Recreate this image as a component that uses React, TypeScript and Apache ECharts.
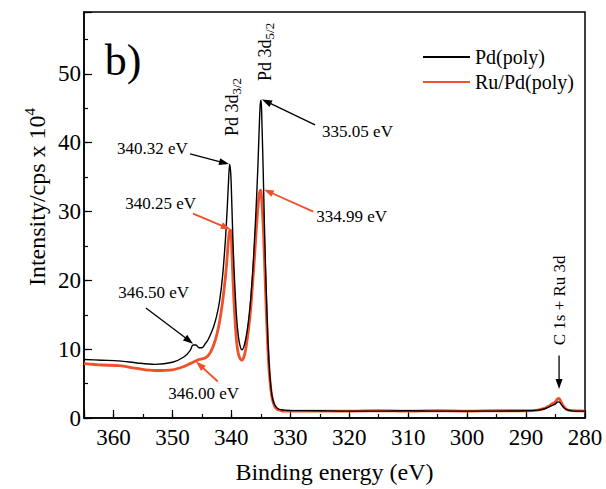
import React, { useEffect, useRef } from 'react';
import * as echarts from 'echarts';

// Binding energy (eV)
const energies = [
  365, 362, 359, 356, 353, 350, 348, 347, 346.5, 346,
  345.5, 345, 344.5, 344, 343.5, 343, 342.5, 342, 341.5, 341,
  340.7, 340.5, 340.3, 340.1, 339.9, 339.7, 339.4, 339.1, 338.8, 338.5,
  338.2, 337.9, 337.6, 337.3, 337.0, 336.7, 336.4, 336.1, 335.8, 335.5,
  335.3, 335.1, 334.95, 334.8, 334.6, 334.4, 334.2, 334.0, 333.8, 333.6,
  333.4, 333.2, 333.0, 332.7, 332.4, 332.0, 331.5, 331, 330, 325,
  320, 315, 310, 305, 300, 295, 290, 288, 287, 286.5,
  286, 285.5, 285, 284.7, 284.4, 284.1, 283.7, 283.2, 282.5, 281.5,
  280,
];

// Pd(poly) intensity (cps x 10^4)
const pdPoly = [
  8.5, 8.4, 8.3, 8.0, 7.8, 8.1, 8.9, 9.8, 10.6, 10.6,
  10.2, 10.2, 10.7, 11.3, 12.2, 13.3, 14.8, 17.0, 20.5, 26.0,
  30.5, 34.0, 36.9, 35.5, 30.5, 25.0, 19.0, 14.5, 11.8, 10.4,
  9.9, 10.3, 11.3, 12.8, 14.8, 17.5, 21.0, 25.5, 30.5, 36.5,
  41.5, 45.5, 46.2, 42.5, 36.0, 28.5, 22.0, 16.5, 11.5, 8.0,
  5.5, 3.8, 2.8, 2.0, 1.6, 1.3, 1.2, 1.15, 1.1, 1.05,
  1.0, 1.0, 1.05, 1.0, 1.0, 1.0, 1.05, 1.15, 1.3, 1.45,
  1.65, 1.85, 2.05, 2.3, 2.35, 2.05, 1.6, 1.25, 1.08, 1.0,
  1.0,
];

// Ru/Pd(poly) intensity (cps x 10^4)
const ruPdPoly = [
  7.9, 7.7, 7.6, 7.2, 6.9, 7.0, 7.5, 7.9, 8.1, 8.3,
  8.5, 8.6, 8.7, 9.0, 9.6, 10.6, 12.0, 14.0, 16.8, 20.5,
  23.5, 25.8, 27.2, 27.3, 24.0, 19.5, 14.5, 11.0, 9.3, 8.6,
  8.4, 8.8, 9.8, 11.5, 13.5, 16.0, 19.5, 23.0, 27.0, 30.5,
  32.3, 33.1, 32.8, 31.0, 28.0, 23.5, 18.5, 14.0, 10.0, 7.0,
  5.0, 3.5, 2.6, 1.8, 1.4, 1.15, 1.05, 1.0, 1.0, 1.0,
  1.0, 1.05, 1.0, 1.05, 1.0, 1.05, 1.05, 1.15, 1.35, 1.55,
  1.8, 2.1, 2.35, 2.75, 2.85, 2.4, 1.8, 1.3, 1.1, 1.05,
  1.0,
];

const seriesNames = ['Pd(poly)', 'Ru/Pd(poly)'];

// Peak annotations (data coordinates)
const annotationTexts = ['340.32 eV', '340.25 eV', '335.05 eV', '334.99 eV', '346.50 eV', '346.00 eV'];
const annotationTextPos = [[359.4, 39.1], [358.0, 31.2], [324.6, 41.7], [325.6, 29.3], [359.2, 18.2], [350.7, 3.5]];
const annotationFrom = [[347.0, 38.4], [346.5, 29.7], [325.8, 42.6], [326.1, 30.0], [354.5, 16.0], [342.3, 5.3]];
const annotationTo = [[340.4, 36.9], [340.1, 27.4], [334.8, 46.3], [334.5, 33.2], [346.5, 10.8], [346.0, 8.2]];
const annotationSeries = [0, 1, 0, 1, 0, 1];

const FONT = "'Liberation Serif'";
const BLACK = '#000000';
const RED = '#f0502a';
const colors = [BLACK, RED];

export default function App() {
  const ref = useRef<HTMLDivElement>(null);

  useEffect(() => {
    if (!ref.current) return;
    const chart = echarts.init(ref.current, undefined, { renderer: 'svg' });

    const pdData = energies.map((e, i) => [e, pdPoly[i]]);
    const ruData = energies.map((e, i) => [e, ruPdPoly[i]]);

    const axisText = { color: BLACK, fontSize: 23, fontFamily: FONT };

    chart.setOption({
      animation: false,
      backgroundColor: '#ffffff',
      textStyle: { fontFamily: FONT },
      grid: {
        left: 84, right: 21, top: 12, bottom: 68,
        show: true, borderColor: BLACK, borderWidth: 1.5, backgroundColor: 'transparent',
      },
      legend: {
        data: seriesNames,
        orient: 'vertical',
        left: 417,
        top: 42,
        itemWidth: 47,
        itemHeight: 14,
        itemGap: 5,
        itemStyle: { opacity: 0 },
        textStyle: { color: BLACK, fontSize: 20, fontFamily: FONT, lineHeight: 20 },
      },
      xAxis: [
        {
          type: 'value', min: 280, max: 365, interval: 10, inverse: true, position: 'bottom',
          name: 'Binding energy (eV)', nameLocation: 'middle', nameGap: 42,
          nameTextStyle: { color: BLACK, fontSize: 24, fontFamily: FONT },
          axisLine: { show: true, lineStyle: { color: BLACK, width: 1.5 } },
          axisTick: { show: true, inside: true, length: 8, lineStyle: { color: BLACK, width: 1.2 } },
          axisLabel: { ...axisText, margin: 8, formatter: (v: number) => (v % 10 === 0 && v !== 365 ? String(v) : '') },
          splitLine: { show: false },
        },
        {
          type: 'value', min: 280, max: 365, interval: 5, inverse: true, position: 'bottom',
          axisLine: { show: false },
          axisTick: { show: true, inside: true, length: 4, lineStyle: { color: BLACK, width: 1.2 } },
          axisLabel: { show: false },
          splitLine: { show: false },
        },
      ],
      yAxis: [
        {
          type: 'value', min: 0, max: 59, interval: 10, position: 'left',
          axisLine: { show: true, lineStyle: { color: BLACK, width: 1.5 } },
          axisTick: { show: true, inside: true, length: 8, lineStyle: { color: BLACK, width: 1.2 } },
          axisLabel: { ...axisText, margin: 3, formatter: (v: number) => (v % 10 === 0 ? String(v) : '') },
          splitLine: { show: false },
        },
        {
          type: 'value', min: 0, max: 59, interval: 5, position: 'left',
          axisLine: { show: false },
          axisTick: { show: true, inside: true, length: 4, lineStyle: { color: BLACK, width: 1.2 } },
          axisLabel: { show: false },
          splitLine: { show: false },
        },
      ],
      series: [
        {
          name: seriesNames[1], type: 'line', data: ruData, xAxisIndex: 0, yAxisIndex: 0,
          symbol: 'none', smooth: 0.3, lineStyle: { color: RED, width: 2.8 }, itemStyle: { color: RED }, z: 2,
        },
        {
          name: seriesNames[0], type: 'line', data: pdData, xAxisIndex: 0, yAxisIndex: 0,
          symbol: 'none', smooth: 0.3, lineStyle: { color: BLACK, width: 1.4 }, itemStyle: { color: BLACK }, z: 3,
        },
      ],
    });

    const toPx = (p: number[]) => chart.convertToPixel({ xAxisIndex: 0, yAxisIndex: 0 }, p) as number[];
    const g: any[] = [];

    const arrow = (from: number[], to: number[], color: string, width: number) => {
      const p1 = toPx(from);
      const p2 = toPx(to);
      const dx = p2[0] - p1[0];
      const dy = p2[1] - p1[1];
      const len = Math.sqrt(dx * dx + dy * dy) || 1;
      const ux = dx / len, uy = dy / len;
      const nx = -uy, ny = ux;
      const hl = 10, hw = 3.5;
      const bx = p2[0] - ux * hl, by = p2[1] - uy * hl;
      g.push({
        type: 'line', z: 20, silent: true,
        shape: { x1: p1[0], y1: p1[1], x2: bx + ux * 2, y2: by + uy * 2 },
        style: { stroke: color, lineWidth: width },
      });
      g.push({
        type: 'polygon', z: 20, silent: true,
        shape: { points: [[p2[0], p2[1]], [bx + nx * hw, by + ny * hw], [bx - nx * hw, by - ny * hw]] },
        style: { fill: color },
      });
    };

    annotationTexts.forEach((t, i) => {
      const tp = toPx(annotationTextPos[i]);
      g.push({
        type: 'text', z: 20, silent: true, x: tp[0], y: tp[1],
        style: { text: t, fill: BLACK, fontSize: 17, fontFamily: FONT, align: 'left', verticalAlign: 'middle' },
      });
      const c = colors[annotationSeries[i]];
      arrow(annotationFrom[i], annotationTo[i], c, c === RED ? 1.8 : 1.3);
    });

    // Rotated peak labels
    const rotLabel = (center: number[], main: string, sub: string) => {
      const p = toPx(center);
      g.push({
        type: 'text', z: 20, silent: true, x: p[0], y: p[1], rotation: Math.PI / 2,
        style: {
          text: `{a|${main}}{s|${sub}}`,
          align: 'center', verticalAlign: 'middle',
          rich: {
            a: { fontSize: 18, fontFamily: FONT, fill: BLACK, lineHeight: 22 },
            s: { fontSize: 13, fontFamily: FONT, fill: BLACK, lineHeight: 22, verticalAlign: 'bottom', padding: [8, 0, 0, 0] },
          },
        },
      });
    };
    rotLabel([339.9, 45.2], 'Pd 3d', '3/2');
    rotLabel([334.3, 53.2], 'Pd 3d', '5/2');

    const c1s = toPx([284.4, 17.1]);
    g.push({
      type: 'text', z: 20, silent: true, x: c1s[0], y: c1s[1], rotation: Math.PI / 2,
      style: { text: 'C 1s + Ru 3d', fill: BLACK, fontSize: 17, fontFamily: FONT, align: 'center', verticalAlign: 'middle' },
    });
    arrow([284.4, 9.1], [284.4, 4.2], BLACK, 1.3);

    // Panel label
    g.push({
      type: 'text', z: 20, silent: true, x: 123, y: 60,
      style: { text: 'b)', fill: BLACK, fontSize: 44, fontFamily: FONT, align: 'center', verticalAlign: 'middle' },
    });

    // Y axis title with superscript
    g.push({
      type: 'text', z: 20, silent: true, x: 37, y: 197, rotation: Math.PI / 2,
      style: {
        text: '{a|Intensity/cps x 10}{b|4}',
        align: 'center', verticalAlign: 'middle',
        rich: {
          a: { fontSize: 24, fontFamily: FONT, fill: BLACK, lineHeight: 30 },
          b: { fontSize: 15, fontFamily: FONT, fill: BLACK, lineHeight: 30, verticalAlign: 'top', padding: [0, 0, 6, 0] },
        },
      },
    });

    chart.setOption({ graphic: g });

    return () => chart.dispose();
  }, []);

  return <div ref={ref} style={{ position: 'fixed', left: 0, top: 0, width: 606, height: 489 }} />;
}
